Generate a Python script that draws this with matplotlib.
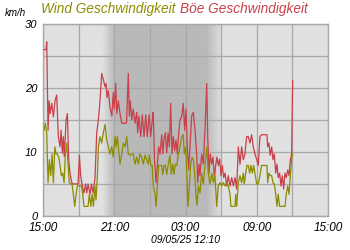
import numpy as np
import matplotlib
matplotlib.use("Agg")
import matplotlib.pyplot as plt

# Stunden seit 15:00 (09/05) und Werte in km/h
gust_t = [0.08, 0.25, 0.31, 0.42, 0.51, 0.59, 0.73, 0.87, 1.01, 1.15, 1.29, 1.43, 1.52, 1.63, 1.71, 1.79,
          1.94, 2.05, 2.16, 2.27, 2.42, 2.53, 2.74, 2.95, 3.06, 3.17, 3.28, 3.45, 3.58, 3.68, 3.79, 3.96,
          4.08, 4.21, 4.38, 4.52, 4.66, 4.80, 4.94, 5.08, 5.22, 5.31, 5.39, 5.50, 5.64, 5.79, 5.92, 6.00,
          6.12, 6.21, 6.34, 6.48, 6.63, 6.82, 7.03, 7.18, 7.27, 7.35, 7.47, 7.60, 7.75, 7.89, 7.97, 8.08,
          8.23, 8.36, 8.51, 8.65, 8.78, 8.93, 9.07, 9.20, 9.28, 9.39, 9.52, 9.63, 9.74, 9.85, 10.00, 10.08,
          10.19, 10.30, 10.42, 10.53, 10.64, 10.75, 10.86, 10.97, 11.09, 11.20, 11.31, 11.43, 11.54, 11.68,
          11.81, 11.93, 12.04, 12.15, 12.27, 12.38, 12.52, 12.66, 12.80, 12.94, 13.03, 13.14, 13.22, 13.36,
          13.50, 13.64, 13.79, 13.87, 13.98, 14.09, 14.21, 14.32, 14.43, 14.54, 14.65, 14.76, 14.88, 14.99,
          15.10, 15.22, 15.33, 15.47, 15.60, 15.75, 15.89, 16.03, 16.17, 16.31, 16.45, 16.59, 16.73, 16.87,
          17.01, 17.15, 17.29, 17.43, 17.57, 17.71, 17.85, 18.00, 18.13, 18.27, 18.41, 18.55, 18.69, 18.86,
          18.92, 19.03, 19.14, 19.26, 19.37, 19.48, 19.60, 19.71, 19.81, 19.93, 20.04, 20.15, 20.27, 20.38,
          20.49, 20.61, 20.72, 20.83, 20.94, 21.03]
gust_v = [26.0, 26.0, 27.2, 13.4, 18.0, 16.0, 17.6, 15.5, 18.0, 18.9, 12.4, 10.8, 13.4, 9.8, 12.4, 9.3,
          15.0, 16.0, 8.8, 6.7, 5.2, 5.0, 5.0, 5.0, 9.5, 6.3, 5.0, 3.6, 5.0, 3.6, 5.0, 3.4,
          5.0, 3.6, 6.0, 13.0, 15.0, 18.0, 22.3, 21.3, 20.2, 20.7, 18.5, 19.6, 17.0, 15.6, 19.3, 16.7,
          20.7, 16.0, 18.0, 16.0, 14.5, 14.5, 14.5, 22.3, 15.6, 18.0, 15.0, 16.7, 14.5, 16.2, 13.0, 15.6,
          12.4, 15.8, 12.4, 15.8, 12.4, 15.8, 12.4, 15.0, 16.2, 8.8, 5.2, 8.1, 10.8, 9.7, 12.7, 9.7,
          11.9, 13.0, 9.9, 13.0, 10.8, 17.6, 9.7, 12.4, 10.2, 11.9, 9.7, 13.0, 15.0, 15.6,
          17.6, 13.4, 16.7, 10.8, 7.2, 10.8, 15.6, 16.2, 13.4, 9.7, 5.2, 8.1, 6.3, 9.7,
          8.1, 13.4, 20.7, 12.4, 6.7, 9.7, 8.1, 9.2, 6.0, 7.9, 9.2, 7.9, 8.9, 6.3,
          7.9, 6.0, 6.7, 4.7, 6.3, 4.7, 6.0, 4.7, 6.0, 4.2, 10.8, 8.1, 10.8, 8.8,
          9.7, 12.4, 12.4, 11.4, 12.7, 10.8, 9.7, 8.8, 7.9, 12.4, 12.7, 12.7, 12.7, 12.7,
          10.8, 11.4, 9.5, 10.8, 8.8, 9.7, 6.7, 8.1, 6.0, 6.7, 4.7, 6.3, 4.2, 6.7,
          6.0, 7.2, 6.3, 8.8, 9.7, 21.2]

wind_t = [0.08, 0.19, 0.31, 0.42, 0.53, 0.65, 0.76, 0.87, 0.99, 1.09, 1.20, 1.32, 1.43, 1.54, 1.66, 1.77,
          1.88, 2.00, 2.11, 2.21, 2.33, 2.44, 2.55, 2.67, 2.78, 2.89, 3.12, 3.23, 3.34, 3.45, 3.79, 3.90,
          4.02, 4.13, 4.24, 4.38, 4.46, 4.57, 4.66, 4.80, 4.94, 5.08, 5.22, 5.36, 5.50, 5.64, 5.79, 5.92,
          6.06, 6.15, 6.26, 6.40, 6.48, 6.63, 6.76, 6.91, 7.05, 7.18, 7.33, 7.47, 7.60, 7.75, 7.89, 8.03,
          8.17, 8.31, 8.45, 8.59, 8.73, 8.87, 8.95, 9.09, 9.20, 9.28, 9.43, 9.52, 9.63, 9.74, 9.85, 10.00,
          10.08, 10.19, 10.30, 10.42, 10.55, 10.69, 10.80, 10.92, 11.03, 11.14, 11.26, 11.39, 11.54, 11.68,
          11.81, 11.90, 12.02, 12.10, 12.21, 12.32, 12.44, 12.55, 12.66, 12.77, 12.88, 12.97, 13.08, 13.22,
          13.36, 13.50, 13.64, 13.79, 13.92, 14.06, 14.21, 14.34, 14.48, 14.63, 14.76, 14.91, 15.05, 15.18,
          15.33, 15.47, 15.60, 15.75, 15.83, 16.17, 16.23, 16.31, 16.45, 16.59, 16.73, 16.87, 16.95, 17.07,
          17.18, 17.29, 17.41, 17.52, 17.63, 17.74, 17.85, 18.00, 18.13, 18.27, 18.41, 18.86, 18.92, 19.03,
          19.14, 19.26, 19.37, 19.48, 19.60, 19.71, 19.81, 19.93, 20.38, 20.49, 20.61, 20.72, 20.83, 20.94,
          21.03]
wind_v = [13.4, 14.5, 12.9, 5.2, 8.8, 6.3, 9.7, 5.2, 10.8, 9.7, 9.7, 9.2, 7.9, 6.3, 6.7, 5.2,
          9.7, 11.4, 7.9, 5.2, 5.0, 5.0, 3.4, 1.5, 3.4, 4.7, 4.7, 4.7, 3.4, 1.5, 1.5, 3.4,
          1.5, 3.4, 1.5, 4.7, 2.5, 6.0, 10.8, 12.4, 11.4, 13.0, 14.3, 11.9, 10.8, 9.7, 10.8, 9.2,
          12.4, 10.8, 12.4, 9.7, 8.1, 9.7, 11.4, 10.8, 12.4, 9.7, 9.5, 9.7, 9.7, 8.1, 9.2, 8.1,
          9.7, 9.2, 8.1, 9.5, 8.8, 8.1, 9.5, 7.9, 7.9, 4.7, 3.4, 1.5, 4.7, 7.9, 7.9, 7.9,
          6.5, 7.9, 7.9, 6.5, 8.1, 9.5, 6.5, 8.1, 6.5, 8.1, 7.9, 9.5, 10.8, 12.4,
          12.7, 9.7, 10.8, 6.7, 1.5, 4.7, 8.1, 9.2, 8.8, 6.7, 3.4, 1.7, 4.7, 3.6,
          6.7, 5.0, 7.9, 10.8, 6.7, 5.0, 6.7, 5.2, 6.3, 1.5, 4.7, 5.2, 4.7, 5.2,
          4.7, 5.2, 4.7, 3.4, 1.5, 1.5, 3.4, 1.5, 5.2, 6.3, 5.2, 6.7, 5.0, 6.7,
          7.9, 7.9, 6.7, 7.9, 6.7, 7.9, 6.7, 5.0, 5.0, 6.3, 7.9, 7.9, 5.2, 6.7,
          6.3, 6.3, 5.2, 5.0, 3.4, 1.5, 3.4, 1.5, 1.5, 3.4, 4.7, 3.4, 6.3, 8.8,
          9.7]

tick_labels = ["15:00", "21:00", "03:00", "09:00", "15:00"]
# Dämmerung / Nacht (Stunden seit 15:00)
dusk_start, night_start, night_end, dawn_end = 5.0, 6.0, 13.75, 15.1

plt.rcParams['font.family'] = ['Liberation Sans', 'DejaVu Sans']

fig = plt.figure(figsize=(3.5, 2.5), dpi=100)
ax = fig.add_axes([0.123, 0.136, 0.814, 0.768])

# Hintergrund mit Nachtschattierung
xs = np.linspace(0, 24, 1000)
shade = np.full_like(xs, 0.88)
m = (xs >= dusk_start) & (xs < night_start)
shade[m] = 0.88 - 0.155 * (xs[m] - dusk_start) / (night_start - dusk_start)
shade[(xs >= night_start) & (xs <= night_end)] = 0.725
m = (xs > night_end) & (xs <= dawn_end)
shade[m] = 0.725 + 0.155 * (xs[m] - night_end) / (dawn_end - night_end)
ax.imshow(np.tile(shade, (2, 1)), cmap='gray', vmin=0, vmax=1, aspect='auto',
          extent=[0, 24, 0, 30], zorder=0, interpolation='bilinear')

ax.plot(gust_t, gust_v, color='#c8404a', lw=0.9, zorder=3)
ax.plot(wind_t, wind_v, color='#8c8c00', lw=0.9, zorder=4)

ax.set_xlim(0, 24)
ax.set_ylim(0, 30)
ax.set_xticks(np.arange(0, 25, 3))
ax.set_xticklabels([tick_labels[i // 2] if i % 2 == 0 else "" for i in range(9)])
ax.set_yticks(np.arange(0, 31, 5))
ax.set_yticklabels(["0", "", "10", "", "20", "", "30"])
ax.grid(True, color='#a8a8a8', lw=0.9)
for gl in ax.get_xgridlines() + ax.get_ygridlines():
    gl.set_zorder(1)
ax.tick_params(axis='x', length=0, pad=4.5, labelsize=8.5)
ax.tick_params(axis='y', length=0, pad=4, labelsize=8)
for lab in ax.get_xticklabels() + ax.get_yticklabels():
    lab.set_fontstyle('italic')
for s in ax.spines.values():
    s.set_color('#a8a8a8')
    s.set_linewidth(1)

fig.text(0.015, 0.948, "km/h", fontsize=7, style='italic', ha='left', va='center')
fig.text(0.117, 0.963, "Wind Geschwindigkeit", fontsize=9.8, style='italic',
         color='#8c8c00', ha='left', va='center')
fig.text(0.513, 0.963, "Böe Geschwindigkeit", fontsize=9.8, style='italic',
         color='#c8404a', ha='left', va='center')
fig.text(0.53, 0.04, "09/05/25 12:10", fontsize=7.5, style='italic', ha='center', va='center')

fig.savefig("out.png", dpi=100)
